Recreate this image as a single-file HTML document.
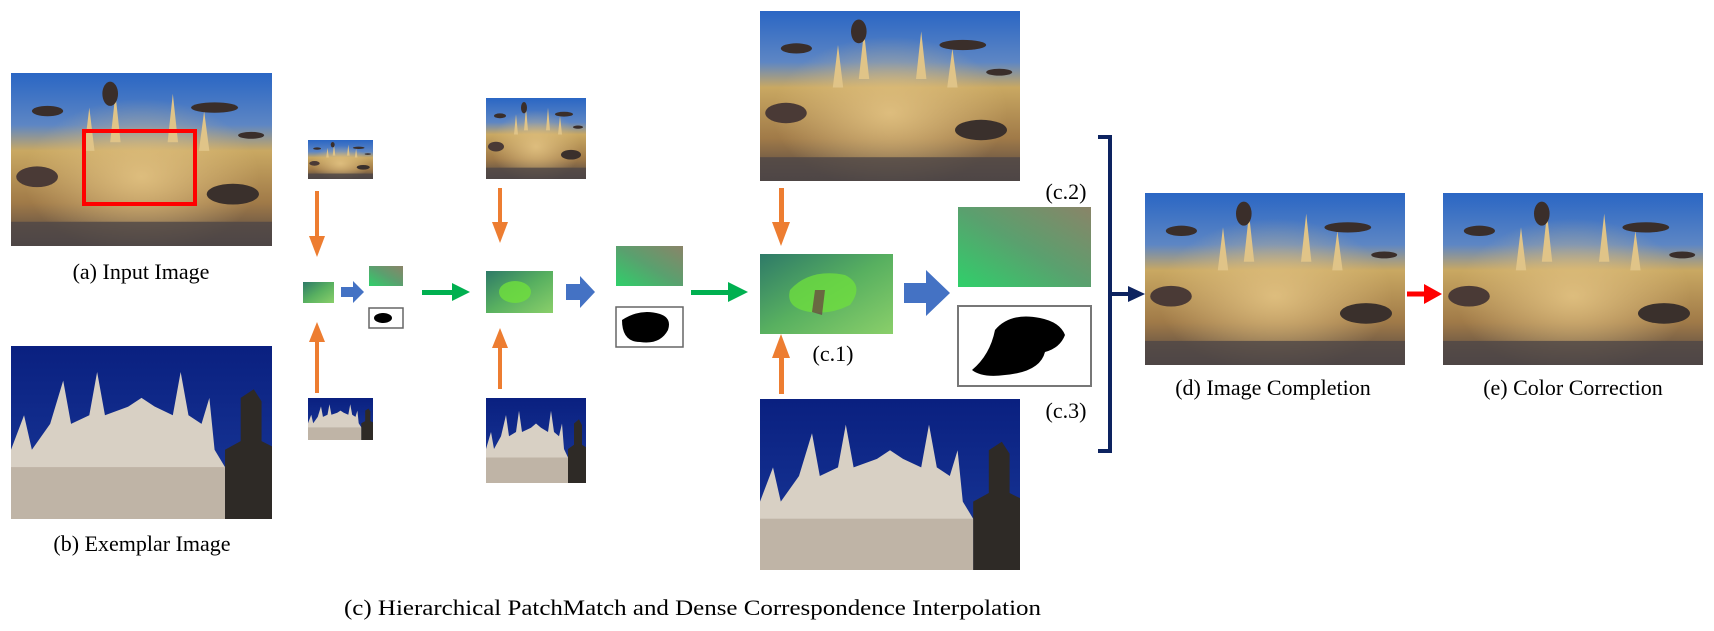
<!DOCTYPE html>
<html><head><meta charset="utf-8"><style>
html,body{margin:0;padding:0;background:#fff;width:1714px;height:631px;overflow:hidden}
svg{display:block}
text{font-family:"Liberation Serif",serif;fill:#000}
</style></head><body>
<svg width="1714" height="631" viewBox="0 0 1714 631" xmlns="http://www.w3.org/2000/svg">
<defs>
<linearGradient id="inp" x1="0" y1="0" x2="0" y2="1">
<stop offset="0" stop-color="#2a66c4"/><stop offset="0.3" stop-color="#5d86c4"/><stop offset="0.45" stop-color="#c9a862"/><stop offset="0.75" stop-color="#a07a48"/><stop offset="1" stop-color="#4e4444"/>
</linearGradient>
<radialGradient id="bld" cx="0.5" cy="0.6" r="0.45">
<stop offset="0" stop-color="#e2c282" stop-opacity="0.9"/><stop offset="1" stop-color="#e2c282" stop-opacity="0"/>
</radialGradient>
<linearGradient id="sky2" x1="0" y1="0" x2="0" y2="1">
<stop offset="0" stop-color="#0a2080"/><stop offset="1" stop-color="#1a3a9a"/>
</linearGradient>
<linearGradient id="flow" x1="0" y1="0" x2="1" y2="1">
<stop offset="0" stop-color="#2e7a68"/><stop offset="0.5" stop-color="#58b060"/><stop offset="1" stop-color="#8acf6a"/>
</linearGradient>
<linearGradient id="grad2" x1="0" y1="1" x2="1" y2="0">
<stop offset="0" stop-color="#2fd06a"/><stop offset="0.5" stop-color="#5aa06e"/><stop offset="1" stop-color="#8a8468"/>
</linearGradient>
<g id="photoA"><rect width="100" height="100" fill="url(#inp)"/><rect width="100" height="100" fill="url(#bld)"/>
<path d="M28 45 L30 20 L32 45Z M38 40 L40 12 L42 40Z M60 40 L62 12 L64 40Z M72 45 L74 22 L76 45Z" fill="#e0c488"/>
<ellipse cx="14" cy="22" rx="6" ry="3" fill="#3a2e2a"/><ellipse cx="78" cy="20" rx="9" ry="3" fill="#3a2e2a"/><ellipse cx="38" cy="12" rx="3" ry="7" fill="#3a2e2a"/><ellipse cx="92" cy="36" rx="5" ry="2" fill="#3a2e2a"/>
<ellipse cx="10" cy="60" rx="8" ry="6" fill="#4a3a36"/><ellipse cx="85" cy="70" rx="10" ry="6" fill="#3a302c"/>
<rect y="86" width="100" height="14" fill="#4e4646" opacity="0.8"/></g>
<g id="photoB"><rect width="100" height="100" fill="url(#sky2)"/>
<path d="M0 100 L0 60 L5 40 L8 60 L15 45 L20 20 L23 45 L30 40 L33 15 L36 40 L45 35 L50 30 L55 35 L62 40 L65 15 L68 40 L73 45 L76 30 L78 60 L82 70 L82 100Z" fill="#d8d0c4"/>
<rect x="0" y="70" width="82" height="30" fill="#bfb4a6"/>
<path d="M82 100 L82 60 L88 55 L88 30 L93 25 L96 32 L96 55 L100 58 L100 100Z" fill="#2e2a26"/></g>
</defs>

<svg x="11" y="73" width="261" height="173" viewBox="0 0 100 100" preserveAspectRatio="none"><use href="#photoA"/></svg>
<rect x="84" y="131" width="111" height="73" fill="none" stroke="#f00" stroke-width="4"/>
<text x="141" y="279" font-size="22" text-anchor="middle">(a) Input Image</text>
<svg x="11" y="346" width="261" height="173" viewBox="0 0 100 100" preserveAspectRatio="none"><use href="#photoB"/></svg>
<text x="142" y="551" font-size="22" text-anchor="middle">(b) Exemplar Image</text>

<svg x="308" y="140" width="65" height="39" viewBox="0 0 100 100" preserveAspectRatio="none"><use href="#photoA"/></svg>
<svg x="308" y="398" width="65" height="42" viewBox="0 0 100 100" preserveAspectRatio="none"><use href="#photoB"/></svg>
<rect x="303" y="282" width="31" height="21" fill="url(#flow)"/>
<rect x="369" y="266" width="34" height="20" fill="url(#grad2)"/>
<rect x="369" y="308" width="34" height="20" fill="#fff" stroke="#666" stroke-width="1.5"/>
<ellipse cx="383" cy="318" rx="9" ry="5" fill="#000"/>

<svg x="486" y="98" width="100" height="81" viewBox="0 0 100 100" preserveAspectRatio="none"><use href="#photoA"/></svg>
<svg x="486" y="398" width="100" height="85" viewBox="0 0 100 100" preserveAspectRatio="none"><use href="#photoB"/></svg>
<rect x="486" y="271" width="67" height="42" fill="url(#flow)"/>
<ellipse cx="515" cy="292" rx="16" ry="11" fill="#6fe03c" opacity="0.8"/>
<rect x="616" y="246" width="67" height="40" fill="url(#grad2)"/>
<rect x="616" y="307" width="67" height="40" fill="#fff" stroke="#666" stroke-width="1.5"/>
<path d="M622 320 Q640 308 660 314 Q672 318 668 330 Q660 345 640 342 Q622 342 622 320Z" fill="#000"/>

<svg x="760" y="11" width="260" height="170" viewBox="0 0 100 100" preserveAspectRatio="none"><use href="#photoA"/></svg>
<svg x="760" y="399" width="260" height="171" viewBox="0 0 100 100" preserveAspectRatio="none"><use href="#photoB"/></svg>
<rect x="760" y="254" width="133" height="80" fill="url(#flow)"/>
<path d="M790 290 Q810 268 845 275 Q865 285 850 305 Q830 315 810 312 Q785 308 790 290Z" fill="#6fe03c" opacity="0.75"/>
<path d="M815 290 L825 290 L822 315 L812 312Z" fill="#6a3a40" opacity="0.7"/>
<text x="833" y="361" font-size="22" text-anchor="middle">(c.1)</text>
<rect x="958" y="207" width="133" height="80" fill="url(#grad2)"/>
<text x="1066" y="199" font-size="22" text-anchor="middle">(c.2)</text>
<rect x="958" y="306" width="133" height="80" fill="#fff" stroke="#777" stroke-width="2"/>
<path d="M995 330 Q1010 312 1040 318 Q1060 322 1065 335 Q1060 348 1045 352 Q1040 372 1005 375 Q982 378 972 370 Q990 355 995 330Z" fill="#000"/>
<text x="1066" y="418" font-size="22" text-anchor="middle">(c.3)</text>

<text x="344" y="615" font-size="22" textLength="697" lengthAdjust="spacingAndGlyphs">(c) Hierarchical PatchMatch and Dense Correspondence Interpolation</text>

<path d="M1098 137 H1110 V451 H1098" fill="none" stroke="#0d2360" stroke-width="4"/>
<line x1="1110" y1="294" x2="1132" y2="294" stroke="#0d2360" stroke-width="4"/>
<path d="M1128 286 L1145 294 L1128 302 Z" fill="#0d2360"/>

<svg x="1145" y="193" width="260" height="172" viewBox="0 0 100 100" preserveAspectRatio="none"><use href="#photoA"/></svg>
<text x="1273" y="395" font-size="22" text-anchor="middle">(d) Image Completion</text>
<svg x="1443" y="193" width="260" height="172" viewBox="0 0 100 100" preserveAspectRatio="none"><use href="#photoA"/></svg>
<text x="1573" y="395" font-size="22" text-anchor="middle">(e) Color Correction</text>
<line x1="1407" y1="294" x2="1428" y2="294" stroke="#f00" stroke-width="5"/>
<path d="M1424 284 L1442 294 L1424 304 Z" fill="#f00"/>

<g fill="#ed7d31">
<rect x="315" y="191" width="4" height="48"/><path d="M309 236 L317 257 L325 236Z"/>
<rect x="315" y="339" width="4" height="54"/><path d="M309 342 L317 322 L325 342Z"/>
<rect x="498" y="188" width="4" height="38"/><path d="M492 222 L500 243 L508 222Z"/>
<rect x="498" y="346" width="4" height="43"/><path d="M492 348 L500 328 L508 348Z"/>
<rect x="779" y="188" width="5" height="40"/><path d="M772 222 L781 246 L790 222Z"/>
<rect x="779" y="352" width="5" height="42"/><path d="M772 358 L781 334 L790 358Z"/>
</g>
<g fill="#4472c4">
<path d="M341 287 H353 V281 L364 292 L353 303 V297 H341Z"/>
<path d="M566 284 H580 V276 L595 292 L580 308 V300 H566Z"/>
<path d="M904 283 H926 V270 L950 293 L926 316 V303 H904Z"/>
</g>
<g fill="#00b050">
<rect x="422" y="290" width="34" height="5"/><path d="M452 283 L470 292 L452 301Z"/>
<rect x="691" y="290" width="40" height="5"/><path d="M728 282 L748 292 L728 302Z"/>
</g>
</svg>
</body></html>
